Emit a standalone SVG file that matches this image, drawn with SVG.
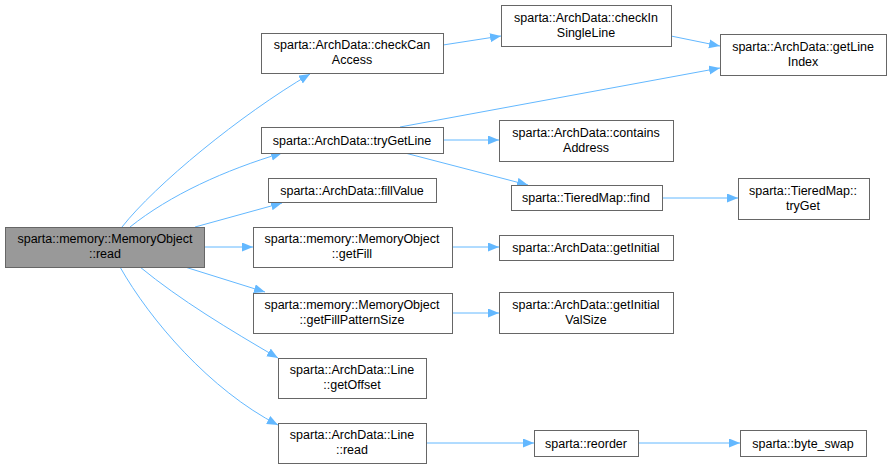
<svg xmlns="http://www.w3.org/2000/svg" width="892" height="469" viewBox="0 0 892 469">
<style>
.n rect{fill:#fff;stroke:#666;stroke-width:1}
.n.root rect{fill:#999}
.n text{font-family:"Liberation Sans",Arial,sans-serif;font-size:12.5px;fill:#000;text-anchor:middle}
.e path{fill:none;stroke:#63b8ff;stroke-width:1;marker-end:url(#ah)}
</style>
<defs>
<marker id="ah" markerUnits="userSpaceOnUse" markerWidth="12" markerHeight="10" refX="11" refY="4.5" orient="auto">
<path d="M0,0 L11,4.5 L0,9 Z" fill="#63b8ff"/>
</marker>
</defs>
<rect width="892" height="469" fill="#fff"/>
<g id="edges" class="e">
<path d="M122,227 C155,185 240,115 310,74"/>
<path d="M130,227 C170,195 225,170 282,153"/>
<path d="M195,227 L282,203"/>
<path d="M205,247 L253,247"/>
<path d="M185,267 L265,292"/>
<path d="M140,267 C180,300 230,330 278,358"/>
<path d="M120,267 C150,320 210,390 278,425"/>
<path d="M443,45 L501,36"/>
<path d="M671,36 L720,46"/>
<path d="M400,127 L720,68"/>
<path d="M443,140 L499,140"/>
<path d="M405,153 L528,185"/>
<path d="M662,198 L738,198"/>
<path d="M452,247 L499,247"/>
<path d="M452,313 L499,313"/>
<path d="M426,443 L534,443"/>
<path d="M638,443 L740,443"/>
</g>
<g id="root" class="n root"><rect x="5.5" y="227.5" width="199" height="40"/><text x="105" y="243">sparta::memory::MemoryObject</text><text x="105" y="258">::read</text></g>
<g id="checkCanAccess" class="n"><rect x="261.5" y="33.5" width="182" height="40"/><text x="352" y="49">sparta::ArchData::checkCan</text><text x="352" y="64">Access</text></g>
<g id="tryGetLine" class="n"><rect x="261.5" y="127.5" width="182" height="26"/><text x="352" y="145">sparta::ArchData::tryGetLine</text></g>
<g id="fillValue" class="n"><rect x="268.5" y="178.5" width="168" height="24"/><text x="352" y="195">sparta::ArchData::fillValue</text></g>
<g id="getFill" class="n"><rect x="253.5" y="227.5" width="199" height="40"/><text x="352" y="243">sparta::memory::MemoryObject</text><text x="352" y="258">::getFill</text></g>
<g id="getFillPatternSize" class="n"><rect x="253.5" y="293.5" width="199" height="40"/><text x="352" y="309">sparta::memory::MemoryObject</text><text x="352" y="324">::getFillPatternSize</text></g>
<g id="getOffset" class="n"><rect x="278.5" y="358.5" width="148" height="40"/><text x="352" y="374">sparta::ArchData::Line</text><text x="352" y="389">::getOffset</text></g>
<g id="lineRead" class="n"><rect x="278.5" y="423.5" width="148" height="40"/><text x="352" y="439">sparta::ArchData::Line</text><text x="352" y="454">::read</text></g>
<g id="checkInSingleLine" class="n"><rect x="501.5" y="5.5" width="170" height="41"/><text x="586" y="22">sparta::ArchData::checkIn</text><text x="586" y="37">SingleLine</text></g>
<g id="containsAddress" class="n"><rect x="499.5" y="120.5" width="174" height="41"/><text x="586" y="137">sparta::ArchData::contains</text><text x="586" y="152">Address</text></g>
<g id="find" class="n"><rect x="511.5" y="185.5" width="151" height="25"/><text x="586" y="202">sparta::TieredMap::find</text></g>
<g id="getInitial" class="n"><rect x="499.5" y="235.5" width="174" height="25"/><text x="586" y="252">sparta::ArchData::getInitial</text></g>
<g id="getInitialValSize" class="n"><rect x="499.5" y="292.5" width="174" height="41"/><text x="586" y="309">sparta::ArchData::getInitial</text><text x="586" y="324">ValSize</text></g>
<g id="reorder" class="n"><rect x="534.5" y="430.5" width="104" height="26"/><text x="586" y="448">sparta::reorder</text></g>
<g id="getLineIndex" class="n"><rect x="720.5" y="34.5" width="166" height="41"/><text x="803" y="51">sparta::ArchData::getLine</text><text x="803" y="66">Index</text></g>
<g id="tryGet" class="n"><rect x="738.5" y="178.5" width="131" height="41"/><text x="803" y="195">sparta::TieredMap::</text><text x="803" y="210">tryGet</text></g>
<g id="byteSwap" class="n"><rect x="740.5" y="430.5" width="126" height="26"/><text x="803" y="448">sparta::byte_swap</text></g>
</svg>
